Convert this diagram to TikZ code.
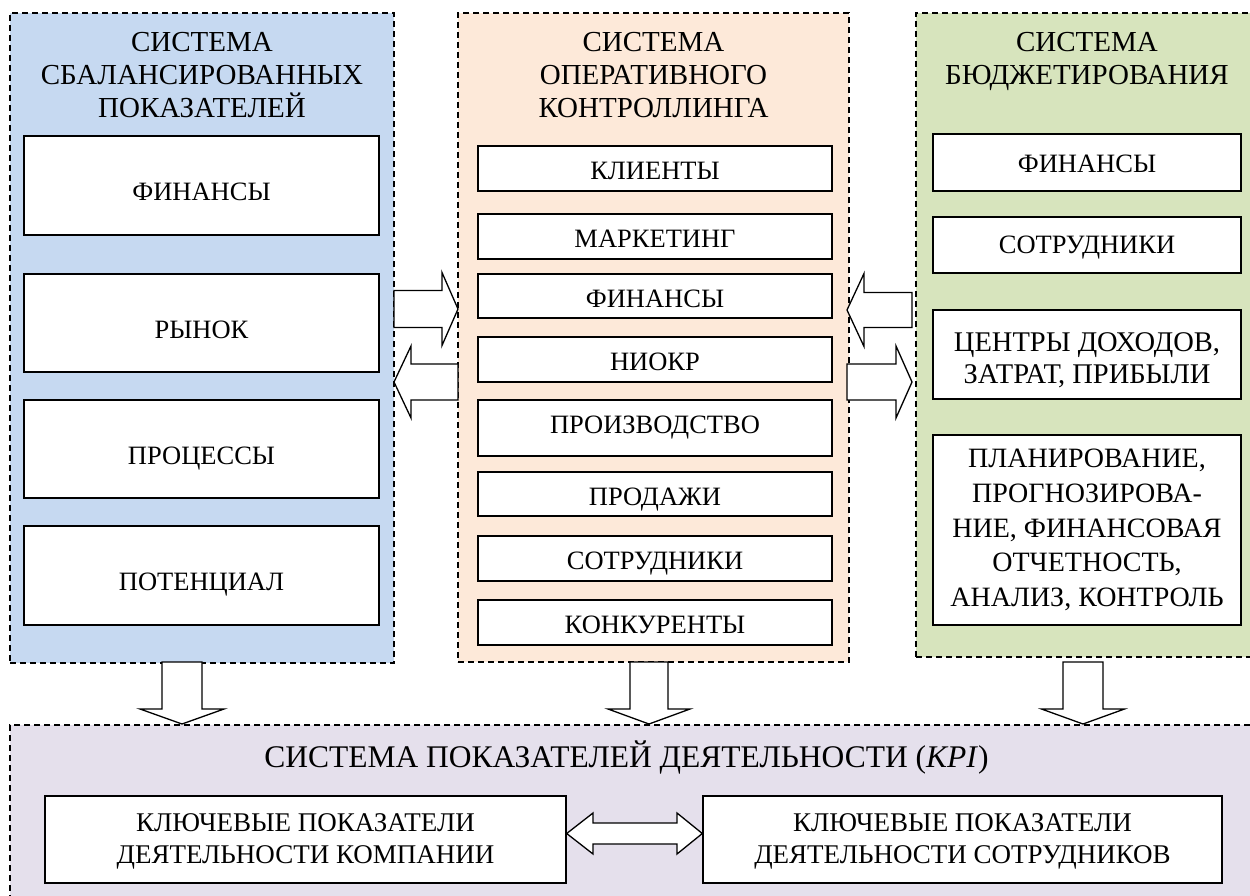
\documentclass[tikz,border=0pt]{standalone}
\usepackage{fontspec}
\setmainfont{Liberation Serif}
\usetikzlibrary{shadows}
\definecolor{bluef}{HTML}{C6D9F1}
\definecolor{peachf}{HTML}{FDE9D9}
\definecolor{greenf}{HTML}{D7E4BD}
\definecolor{lavf}{HTML}{E5E0EC}
\newcommand\bxfont{\fontsize{26.5}{33}\selectfont}
\newcommand\ttlfont{\fontsize{29}{33}\selectfont}
\newcommand\bigttlfont{\fontsize{31.5}{35}\selectfont}
\newcommand\hArr[6]{\draw[blk] (#1,#4-#5) -- (#2,#4-#5) -- (#2,#4-#6) -- (#3,#4) -- (#2,#4+#6) -- (#2,#4+#5) -- (#1,#4+#5) -- cycle;}
\newcommand\vArr[6]{\draw[blk] (#1-#5,#2) -- (#1+#5,#2) -- (#1+#5,#3) -- (#1+#6,#3) -- (#1,#4) -- (#1-#6,#3) -- (#1-#5,#3) -- cycle;}
\begin{document}
\begin{tikzpicture}[x=1pt,y=-1pt,
  panel/.style={draw=black, line width=1.3pt, dash pattern=on 6pt off 4pt, inner sep=0pt},
  inbox/.style={draw=black, line width=1.4pt, fill=white, inner sep=0pt, align=center, font=\bxfont,
     drop shadow={shadow xshift=1.3pt, shadow yshift=-1.3pt, fill=black!35, opacity=1}},
  lowL/.style={text height=30.5pt, text depth=0pt},
  lowM/.style={text height=22.5pt, text depth=0pt},
  ttl/.style={inner sep=0pt, align=center, font=\ttlfont},
  blk/.style={draw=black, fill=white, line width=1.3pt, line join=miter}]
\useasboundingbox (0,0) rectangle (1250,896);
\fill[white] (0,0) rectangle (1250,896);
\clip (0,0) rectangle (1250,896);
% panels
\node[panel, fill=bluef, minimum width=384, minimum height=650] (P1) at (202,338) {};
\node[panel, fill=peachf, minimum width=391, minimum height=649] (P2) at (653.5,337.5) {};
\node[panel, fill=greenf, minimum width=339, minimum height=644] (P3) at (1085.5,335) {};
\node[panel, fill=lavf, minimum width=1245, minimum height=180] (P4) at (632.5,815) {};
% titles
\node[ttl] (T1) at (202,75) {СИСТЕМА\\СБАЛАНСИРОВАННЫХ\\ПОКАЗАТЕЛЕЙ};
\node[ttl] (T2) at (653.5,75) {СИСТЕМА\\ОПЕРАТИВНОГО\\КОНТРОЛЛИНГА};
\node[ttl] (T3) at (1087,61.5) {СИСТЕМА\\БЮДЖЕТИРОВАНИЯ};
\node[inner sep=0pt, font=\bigttlfont] (T4) at (626.5,757) {СИСТЕМА ПОКАЗАТЕЛЕЙ ДЕЯТЕЛЬНОСТИ (\textit{KPI})};
% left boxes
\node[inbox, lowL, minimum width=355, minimum height=99] (L1) at (201.5,185.5) {ФИНАНСЫ};
\node[inbox, lowL, minimum width=355, minimum height=98] (L2) at (201.5,323) {РЫНОК};
\node[inbox, lowL, minimum width=355, minimum height=98] (L3) at (201.5,449) {ПРОЦЕССЫ};
\node[inbox, lowL, minimum width=355, minimum height=99] (L4) at (201.5,575.5) {ПОТЕНЦИАЛ};
% middle boxes
\node[inbox, lowM, minimum width=354, minimum height=45] (M1) at (655,168.5) {КЛИЕНТЫ};
\node[inbox, lowM, minimum width=354, minimum height=45] (M2) at (655,236.5) {МАРКЕТИНГ};
\node[inbox, lowM, minimum width=354, minimum height=44] (M3) at (655,296) {ФИНАНСЫ};
\node[inbox, lowM, minimum width=354, minimum height=45] (M4) at (655,359.5) {НИОКР};
\node[inbox, text height=17.5pt, text depth=6pt, minimum width=354, minimum height=56] (M5) at (655,428) {ПРОИЗВОДСТВО};
\node[inbox, lowM, minimum width=354, minimum height=44] (M6) at (655,494) {ПРОДАЖИ};
\node[inbox, lowM, minimum width=354, minimum height=45] (M7) at (655,558.5) {СОТРУДНИКИ};
\node[inbox, lowM, minimum width=354, minimum height=45] (M8) at (655,622.5) {КОНКУРЕНТЫ};
% right boxes
\node[inbox, text height=19.5pt, text depth=0pt, minimum width=308, minimum height=57] (R1) at (1087,162.5) {ФИНАНСЫ};
\node[inbox, text height=17.5pt, text depth=0pt, minimum width=308, minimum height=56] (R2) at (1087,245) {СОТРУДНИКИ};
\node[inbox, minimum width=308, minimum height=89, font=\fontsize{28.5}{32}\selectfont] (R3) at (1087,354.5) {\rule{0pt}{31pt}ЦЕНТРЫ ДОХОДОВ,\\ЗАТРАТ, ПРИБЫЛИ};
\node[inbox, minimum width=308, minimum height=190, font=\fontsize{28}{34.7}\selectfont] (R4) at (1087,530) {ПЛАНИРОВАНИЕ,\\ПРОГНОЗИРОВА-\\НИЕ, ФИНАНСОВАЯ\\ОТЧЕТНОСТЬ,\\АНАЛИЗ, КОНТРОЛЬ};
% bottom boxes
\node[inbox, minimum width=521, minimum height=87, font=\fontsize{27}{32.5}\selectfont] (B1) at (305.5,839.5) {\rule{0pt}{22pt}КЛЮЧЕВЫЕ ПОКАЗАТЕЛИ\\ДЕЯТЕЛЬНОСТИ КОМПАНИИ};
\node[inbox, minimum width=519, minimum height=87, font=\fontsize{27}{32.5}\selectfont] (B2) at (962.5,839.5) {\rule{0pt}{22pt}КЛЮЧЕВЫЕ ПОКАЗАТЕЛИ\\ДЕЯТЕЛЬНОСТИ СОТРУДНИКОВ};
% block arrows between panels
\hArr{394}{442}{458}{309}{18.5}{36.5}
\hArr{458}{411}{394}{382}{18}{36}
\hArr{912}{864}{847}{310}{17.5}{36.5}
\hArr{847}{896}{912}{382}{18}{36}
% down arrows
\vArr{182}{662}{709}{724}{20}{42}
\vArr{649}{662}{709}{724}{19}{41}
\vArr{1083}{662}{709}{724}{20}{41.5}
% double arrow between bottom boxes
\draw[blk] (B1.east |- 0,833.5) -- (593,813) -- (593,823) -- (677,823) -- (677,813) -- (B2.west |- 0,833.5) -- (677,854) -- (677,844) -- (593,844) -- (593,854) -- cycle;
\end{tikzpicture}
\end{document}
